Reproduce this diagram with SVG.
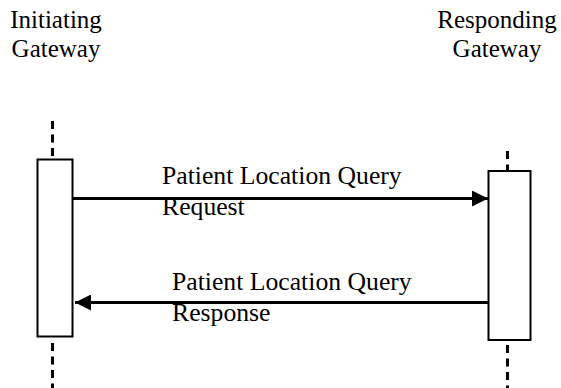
<svg xmlns="http://www.w3.org/2000/svg" width="561" height="388" viewBox="0 0 561 388">
<style>
text{font-family:"Liberation Serif","Times New Roman",serif;font-size:25px;fill:#000}
.lbl{font-size:25.7px}
.life{stroke:#000;stroke-width:3;stroke-dasharray:8 5.5;fill:none}
.act{fill:#fff;stroke:#000;stroke-width:2}
.msg{stroke:#000;stroke-width:3;fill:none}
</style>
<defs>
<marker id="ah" viewBox="0 0 16 16" refX="16" refY="8" markerWidth="16" markerHeight="16" markerUnits="userSpaceOnUse" orient="auto">
<path d="M0,0 L16,8 L0,16 Z" fill="#000"/>
</marker>
</defs>
<g id="initiating">
<text x="56" y="28" text-anchor="middle">Initiating</text>
<text x="56" y="57" text-anchor="middle">Gateway</text>
<line class="life" x1="52.5" y1="121" x2="52.5" y2="159"/>
<line class="life" x1="52.5" y1="343" x2="52.5" y2="388"/>
<rect class="act" x="37.5" y="159.5" width="35" height="177"/>
</g>
<g id="responding">
<text x="497" y="28" text-anchor="middle">Responding</text>
<text x="497" y="57" text-anchor="middle">Gateway</text>
<line class="life" x1="507.5" y1="151" x2="507.5" y2="170"/>
<line class="life" x1="507.5" y1="345" x2="507.5" y2="388"/>
<rect class="act" x="488.5" y="171" width="42" height="169"/>
</g>
<g id="connectors">
<line class="msg" x1="73" y1="198.5" x2="488" y2="198.5" marker-end="url(#ah)"/>
<line class="msg" x1="488" y1="302.5" x2="75" y2="302.5" marker-end="url(#ah)"/>
</g>
<g id="labels">
<text class="lbl" x="162" y="184">Patient Location Query</text>
<text class="lbl" x="162" y="215">Request</text>
<text class="lbl" x="172" y="290">Patient Location Query</text>
<text class="lbl" x="172" y="321">Response</text>
</g>
</svg>
